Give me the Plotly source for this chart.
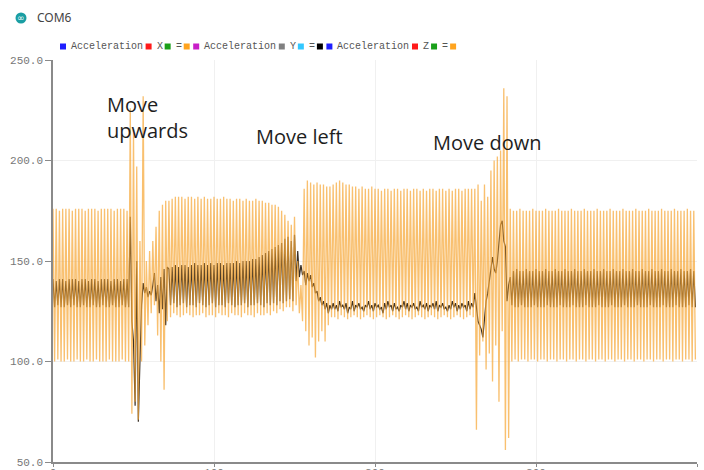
import plotly.graph_objects as go

# Serial plotter capture: one reading per sample, samples 0..399
samples = list(range(400))

# Acceleration X / Z value trace (orange)
accel_xz = [
    # 0-47 at rest
    176, 100, 176, 101, 175, 100, 176, 100, 176, 101, 176, 100, 175, 100, 176, 101,
    176, 100, 176, 100, 175, 101, 176, 100, 176, 100, 176, 101, 175, 100, 176, 100,
    176, 100, 176, 101, 176, 100, 175, 100, 176, 100, 176, 101, 176, 100, 175, 100,
    # 48-71 move upwards
    226, 74, 215, 80, 197, 71, 160, 100, 232, 108, 150, 118,
    155, 124, 160, 128, 167, 113, 175, 100, 178, 86, 180, 120,
    # 72-147
    180, 122, 181, 124, 182, 123, 182, 122, 182, 123, 181, 124, 182, 123, 182, 122,
    181, 123, 182, 123, 181, 124, 182, 122, 181, 123, 181, 123, 182, 122, 181, 124,
    181, 123, 182, 123, 181, 122, 181, 124, 180, 123, 181, 123, 181, 122, 180, 124,
    181, 123, 180, 123, 180, 122, 181, 124, 180, 123, 180, 123, 179, 124, 179, 123,
    178, 125, 178, 124, 177, 126, 175, 125, 173, 127, 170, 127,
    # 148-173 move left
    168, 125, 172, 128, 150, 124, 138, 120, 186, 115, 190, 108, 189, 112,
    188, 102, 189, 110, 188, 115, 188, 110, 187, 118, 187, 122,
    # 174-261
    188, 122, 189, 121, 190, 123, 189, 122, 188, 121, 188, 122, 187, 123, 187, 122,
    186, 121, 187, 122, 186, 123, 186, 122, 187, 121, 186, 122, 186, 123, 185, 122,
    186, 121, 186, 122, 185, 123, 186, 122, 186, 121, 185, 122, 186, 123, 186, 122,
    185, 121, 186, 122, 186, 123, 185, 122, 186, 121, 185, 122, 186, 123, 186, 122,
    185, 121, 186, 122, 186, 123, 185, 122, 186, 121, 185, 122, 186, 123, 186, 122,
    185, 121, 186, 122, 186, 123, 186, 122,
    # 262-285 move down
    186, 66, 188, 103, 180, 110, 188, 96, 182, 104, 195, 90,
    200, 108, 202, 80, 205, 115, 236, 56, 232, 62, 176, 100,
    # 286-399 at rest
    175, 101, 175, 100, 176, 101, 175, 101, 175, 100, 175, 101, 176, 101, 175, 100,
    175, 101, 175, 101, 176, 100, 175, 101, 175, 101, 175, 100, 176, 101, 175, 101,
    175, 100, 175, 101, 176, 101, 175, 100, 175, 101, 175, 101, 176, 100, 175, 101,
    175, 101, 175, 100, 176, 101, 175, 101, 175, 100, 175, 101, 176, 101, 175, 100,
    175, 101, 175, 101, 176, 100, 175, 101, 175, 101, 175, 100, 176, 101, 175, 101,
    175, 100, 175, 101, 176, 101, 175, 100, 175, 101, 175, 101, 176, 100, 175, 101,
    175, 101, 175, 100, 176, 101, 175, 101, 175, 100, 175, 101, 176, 101, 175, 100,
    175, 101,
]

# Acceleration Y value trace (black)
accel_y = [
    # 0-47 at rest
    141, 127, 140, 128, 141, 127, 141, 127, 140, 128, 141, 127, 141, 128, 141, 127,
    140, 127, 141, 128, 141, 127, 140, 127, 141, 128, 141, 127, 140, 127, 141, 128,
    141, 127, 141, 127, 140, 128, 141, 127, 141, 127, 140, 128, 141, 127, 141, 127,
    # 48-71 move upwards
    172, 120, 110, 78, 150, 70, 100, 128, 139, 134, 137, 132,
    135, 133, 138, 144, 130, 138, 124, 142, 126, 146, 118, 147,
    # 72-147
    146, 128, 147, 129, 148, 127, 147, 128, 148, 129, 148, 127, 147, 128, 148, 128,
    149, 127, 148, 129, 148, 128, 149, 127, 148, 128, 149, 129, 148, 127, 149, 128,
    149, 128, 148, 127, 149, 129, 149, 128, 149, 127, 150, 128, 149, 128, 150, 129,
    150, 127, 150, 128, 151, 128, 151, 129, 152, 128, 153, 127, 154, 129, 155, 128,
    156, 129, 157, 128, 158, 130, 159, 129, 161, 130, 162, 131,
    # 148-173 move left
    160, 130, 163, 140, 155, 142, 148, 143, 145, 138, 144, 140, 143, 137,
    139, 134, 135, 130, 132, 128, 130, 126, 129, 124, 128, 126,
    # 174-261
    129, 126, 128, 125, 130, 127, 128, 126, 129, 124, 127, 126, 130, 125, 128, 127,
    129, 126, 127, 125, 128, 127, 130, 126, 128, 125, 129, 127, 128, 126, 127, 124,
    129, 126, 130, 127, 128, 125, 129, 126, 127, 125, 128, 127, 130, 126, 129, 125,
    128, 127, 129, 126, 127, 125, 130, 127, 128, 126, 129, 125, 128, 127, 129, 126,
    130, 125, 128, 127, 129, 126, 127, 125, 128, 126, 130, 127, 129, 125, 128, 126,
    129, 127, 128, 125, 130, 126, 129, 127,
    # 262-285 move down
    134, 125, 120, 118, 116, 112, 122, 130, 134, 140, 148, 152,
    146, 144, 150, 160, 168, 170, 160, 157, 130, 138, 142, 128,
    # 286-399 at rest
    145, 127, 146, 127, 145, 128, 145, 127, 146, 127, 145, 127, 145, 128, 146, 127,
    145, 127, 145, 127, 146, 128, 145, 127, 145, 127, 146, 127, 145, 128, 145, 127,
    146, 127, 145, 127, 145, 128, 146, 127, 145, 127, 145, 127, 146, 128, 145, 127,
    145, 127, 146, 127, 145, 128, 145, 127, 146, 127, 145, 127, 145, 128, 146, 127,
    145, 127, 145, 127, 146, 128, 145, 127, 145, 127, 146, 127, 145, 128, 145, 127,
    146, 127, 145, 127, 145, 128, 146, 127, 145, 127, 145, 127, 146, 128, 145, 127,
    145, 127, 146, 127, 145, 128, 145, 127, 146, 127, 145, 127, 145, 128, 146, 127,
    145, 127,
]

x_ticks = [0, 100, 200, 300, 400]
x_tick_labels = ["0", "100", "200", "300", "400"]
y_ticks = [50, 100, 150, 200, 250]
y_tick_labels = ["50.0", "100.0", "150.0", "200.0", "250.0"]

# Legend entries as the plotter prints them: (swatch colour, token)
legend_items = [
    ("#1f1fff", "Acceleration"), ("#ff1a1a", "X"), ("#1aa01a", "="), ("#ffa41f", ""),
    ("#c81ec8", "Acceleration"), ("#808080", "Y"), ("#33c8ff", "="), ("#000000", ""),
    ("#1f1fff", "Acceleration"), ("#ff1a1a", "Z"), ("#1aa01a", "="), ("#ffa41f", ""),
]

annotations_text = [
    (32, 221.5, "Move<br>upwards"),
    (125, 212.0, "Move left"),
    (235, 209.0, "Move down"),
]

W, H = 704, 470
ML, MR, MT, MB = 53, 7, 60, 8
PW, PH = W - ML - MR, H - MT - MB


def px(xp):
    return (xp - ML) / PW


def py(yp):
    return (H - MB - yp) / PH


fig = go.Figure()
fig.add_trace(go.Scatter(
    x=samples, y=accel_y, mode="lines",
    line=dict(color="#3a3026", width=1.2), hoverinfo="skip",
))
fig.add_trace(go.Scatter(
    x=samples, y=accel_xz, mode="lines", opacity=0.72,
    line=dict(color="#f7a838", width=1.3), hoverinfo="skip",
))

shapes = []
annos = []

# window header: port icon and name
shapes.append(dict(type="circle", xref="paper", yref="paper",
                   x0=px(15.5), x1=px(26.5), y0=py(23.5), y1=py(12.5),
                   fillcolor="#1a9ea3", line=dict(width=0), layer="above"))
annos.append(dict(xref="paper", yref="paper", x=px(21), y=py(18), text="∞",
                  showarrow=False, font=dict(family="DejaVu Sans", size=9, color="white"),
                  xanchor="center", yanchor="middle"))
annos.append(dict(xref="paper", yref="paper", x=px(35), y=py(18), text="COM6",
                  showarrow=False, font=dict(family="Noto Sans", size=12, color="#444"),
                  xanchor="left", yanchor="middle"))

# plotter legend row
cx = 60.0
char_w = 6.05
for colour, token in legend_items:
    shapes.append(dict(type="rect", xref="paper", yref="paper",
                       x0=px(cx), x1=px(cx + 6), y0=py(49.5), y1=py(43.5),
                       fillcolor=colour, line=dict(width=0), layer="above"))
    if token:
        annos.append(dict(xref="paper", yref="paper", x=px(cx + 9), y=py(46.5),
                          text=token, showarrow=False,
                          font=dict(family="Liberation Mono", size=10, color="#555"),
                          xanchor="left", yanchor="middle"))
        cx += 9 + char_w * len(token) + 4
    else:
        cx += 9.5

for xv, yv, txt in annotations_text:
    annos.append(dict(x=xv, y=yv, xref="x", yref="y", text=txt, showarrow=False,
                      xanchor="left", yanchor="middle", align="left",
                      font=dict(family="Open Sans", size=20, color="#1e1e1e")))

axis_common = dict(
    showgrid=True, gridcolor="#f0f0f0", gridwidth=1,
    showline=True, linecolor="#8a8a8a", linewidth=1.5,
    ticks="outside", tickcolor="#8a8a8a", tickwidth=1,
    tickfont=dict(family="Liberation Mono", size=11, color="#777"),
    zeroline=False, automargin=False, fixedrange=True,
)

fig.update_layout(
    width=W, height=H,
    margin=dict(l=ML, r=MR, t=MT, b=MB),
    paper_bgcolor="white", plot_bgcolor="white",
    showlegend=False,
    shapes=shapes, annotations=annos,
    xaxis=dict(range=[0, 400], tickvals=x_ticks, ticktext=x_tick_labels,
               ticklen=3, ticklabelstandoff=-4, **axis_common),
    yaxis=dict(range=[50, 250], tickvals=y_ticks, ticktext=y_tick_labels,
               ticklen=6, **axis_common),
)

fig.write_html("out.html")
